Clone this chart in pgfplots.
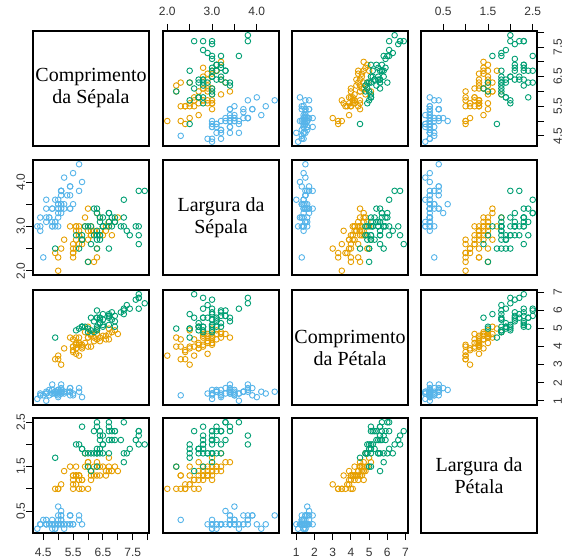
\documentclass[border=0pt]{standalone}
\usepackage{pgfplots}
\usepackage{pgfplotstable}
\pgfplotsset{compat=1.18}
\usepackage{fontspec}
\setmainfont{Liberation Serif}
\newfontfamily\ticfont{Liberation Sans}
\definecolor{cset}{HTML}{56B4E9}
\definecolor{cver}{HTML}{E69F00}
\definecolor{cvir}{HTML}{009E73}

\pgfplotstableread{
SL SW PL PW
5.1 3.5 1.4 0.2
4.9 3.0 1.4 0.2
4.7 3.2 1.3 0.2
4.6 3.1 1.5 0.2
5.0 3.6 1.4 0.2
5.4 3.9 1.7 0.4
4.6 3.4 1.4 0.3
5.0 3.4 1.5 0.2
4.4 2.9 1.4 0.2
4.9 3.1 1.5 0.1
5.4 3.7 1.5 0.2
4.8 3.4 1.6 0.2
4.8 3.0 1.4 0.1
4.3 3.0 1.1 0.1
5.8 4.0 1.2 0.2
5.7 4.4 1.5 0.4
5.4 3.9 1.3 0.4
5.1 3.5 1.4 0.3
5.7 3.8 1.7 0.3
5.1 3.8 1.5 0.3
5.4 3.4 1.7 0.2
5.1 3.7 1.5 0.4
4.6 3.6 1.0 0.2
5.1 3.3 1.7 0.5
4.8 3.4 1.9 0.2
5.0 3.0 1.6 0.2
5.0 3.4 1.6 0.4
5.2 3.5 1.5 0.2
5.2 3.4 1.4 0.2
4.7 3.2 1.6 0.2
4.8 3.1 1.6 0.2
5.4 3.4 1.5 0.4
5.2 4.1 1.5 0.1
5.5 4.2 1.4 0.2
4.9 3.1 1.5 0.2
5.0 3.2 1.2 0.2
5.5 3.5 1.3 0.2
4.9 3.6 1.4 0.1
4.4 3.0 1.3 0.2
5.1 3.4 1.5 0.2
5.0 3.5 1.3 0.3
4.5 2.3 1.3 0.3
4.4 3.2 1.3 0.2
5.0 3.5 1.6 0.6
5.1 3.8 1.9 0.4
4.8 3.0 1.4 0.3
5.1 3.8 1.6 0.2
4.6 3.2 1.4 0.2
5.3 3.7 1.5 0.2
5.0 3.3 1.4 0.2
}\setosa

\pgfplotstableread{
SL SW PL PW
7.0 3.2 4.7 1.4
6.4 3.2 4.5 1.5
6.9 3.1 4.9 1.5
5.5 2.3 4.0 1.3
6.5 2.8 4.6 1.5
5.7 2.8 4.5 1.3
6.3 3.3 4.7 1.6
4.9 2.4 3.3 1.0
6.6 2.9 4.6 1.3
5.2 2.7 3.9 1.4
5.0 2.0 3.5 1.0
5.9 3.0 4.2 1.5
6.0 2.2 4.0 1.0
6.1 2.9 4.7 1.4
5.6 2.9 3.6 1.3
6.7 3.1 4.4 1.4
5.6 3.0 4.5 1.5
5.8 2.7 4.1 1.0
6.2 2.2 4.5 1.5
5.6 2.5 3.9 1.1
5.9 3.2 4.8 1.8
6.1 2.8 4.0 1.3
6.3 2.5 4.9 1.5
6.1 2.8 4.7 1.2
6.4 2.9 4.3 1.3
6.6 3.0 4.4 1.4
6.8 2.8 4.8 1.4
6.7 3.0 5.0 1.7
6.0 2.9 4.5 1.5
5.7 2.6 3.5 1.0
5.5 2.4 3.8 1.1
5.5 2.4 3.7 1.0
5.8 2.7 3.9 1.2
6.0 2.7 5.1 1.6
5.4 3.0 4.5 1.5
6.0 3.4 4.5 1.6
6.7 3.1 4.7 1.5
6.3 2.3 4.4 1.3
5.6 3.0 4.1 1.3
5.5 2.5 4.0 1.3
5.5 2.6 4.4 1.2
6.1 3.0 4.6 1.4
5.8 2.6 4.0 1.2
5.0 2.3 3.3 1.0
5.6 2.7 4.2 1.3
5.7 3.0 4.2 1.2
5.7 2.9 4.2 1.3
6.2 2.9 4.3 1.3
5.1 2.5 3.0 1.1
5.7 2.8 4.1 1.3
}\versicolor

\pgfplotstableread{
SL SW PL PW
6.3 3.3 6.0 2.5
5.8 2.7 5.1 1.9
7.1 3.0 5.9 2.1
6.3 2.9 5.6 1.8
6.5 3.0 5.8 2.2
7.6 3.0 6.6 2.1
4.9 2.5 4.5 1.7
7.3 2.9 6.3 1.8
6.7 2.5 5.8 1.8
7.2 3.6 6.1 2.5
6.5 3.2 5.1 2.0
6.4 2.7 5.3 1.9
6.8 3.0 5.5 2.1
5.7 2.5 5.0 2.0
5.8 2.8 5.1 2.4
6.4 3.2 5.3 2.3
6.5 3.0 5.5 1.8
7.7 3.8 6.7 2.2
7.7 2.6 6.9 2.3
6.0 2.2 5.0 1.5
6.9 3.2 5.7 2.3
5.6 2.8 4.9 2.0
7.7 2.8 6.7 2.0
6.3 2.7 4.9 1.8
6.7 3.3 5.7 2.1
7.2 3.2 6.0 1.8
6.2 2.8 4.8 1.8
6.1 3.0 4.9 1.8
6.4 2.8 5.6 2.1
7.2 3.0 5.8 1.6
7.4 2.8 6.1 1.9
7.9 3.8 6.4 2.0
6.4 2.8 5.6 2.2
6.3 2.8 5.1 1.5
6.1 2.6 5.6 1.4
7.7 3.0 6.1 2.3
6.3 3.4 5.6 2.4
6.4 3.1 5.5 1.8
6.0 3.0 4.8 1.8
6.9 3.1 5.4 2.1
6.7 3.1 5.6 2.4
6.9 3.1 5.1 2.3
5.8 2.7 5.1 1.9
6.8 3.2 5.9 2.3
6.7 3.3 5.7 2.5
6.7 3.0 5.2 2.3
6.3 2.5 5.0 1.9
6.5 3.0 5.2 2.0
6.2 3.4 5.4 2.3
5.9 3.0 5.1 1.8
}\virginica

\pgfplotsset{
  base/.style={scale only axis, width=116pt, height=115pt, anchor=south west,
    axis line style={line width=1.2pt, black}, xtick=\empty, ytick=\empty,
    tick align=outside, major tick length=7pt,
    every tick/.style={black, line width=0.9pt},
    tick label style={font=\ticfont\fontsize{12}{14}\selectfont, text=black!80},
    clip=false},
  xSL/.style={xmin=4.156, xmax=8.044},
  ySL/.style={ymin=4.156, ymax=8.044},
  xSW/.style={xmin=1.904, xmax=4.496},
  ySW/.style={ymin=1.904, ymax=4.496},
  xPL/.style={xmin=0.764, xmax=7.136},
  yPL/.style={ymin=0.764, ymax=7.136},
  xPW/.style={xmin=0.004, xmax=2.596},
  yPW/.style={ymin=0.004, ymax=2.596},
  pt/.style={only marks, mark=o, mark size=2.8pt, mark options={line width=0.9pt}},
  botSL/.style={xtick={4.5,5,5.5,6,6.5,7,7.5,8}, xticklabels={4.5,{},5.5,{},6.5,{},7.5,{}}, xtick pos=lower, xticklabel pos=lower, xticklabel shift=5pt},
  botPL/.style={xtick={1,2,3,4,5,6,7}, xticklabels={1,2,3,4,5,6,7}, xtick pos=lower, xticklabel pos=lower, xticklabel shift=5pt},
  topSW/.style={xtick={2,2.5,3,3.5,4}, xticklabels={2.0,{},3.0,{},4.0}, xtick pos=upper, xticklabel pos=upper, xticklabel shift=5pt},
  topPW/.style={xtick={0.5,1,1.5,2,2.5}, xticklabels={0.5,{},1.5,{},2.5}, xtick pos=upper, xticklabel pos=upper, xticklabel shift=5pt},
  leftSW/.style={ytick={2,2.5,3,3.5,4}, yticklabels={2.0,{},3.0,{},4.0}, ytick pos=lower, yticklabel pos=lower, yticklabel style={rotate=90, anchor=south}, yticklabel shift=-2.5pt},
  leftPW/.style={ytick={0.5,1,1.5,2,2.5}, yticklabels={0.5,{},1.5,{},2.5}, ytick pos=lower, yticklabel pos=lower, yticklabel style={rotate=90, anchor=south}, yticklabel shift=-2.5pt},
  rightSL/.style={ytick={4.5,5,5.5,6,6.5,7,7.5,8}, yticklabels={4.5,{},5.5,{},6.5,{},7.5,{}}, ytick pos=upper, yticklabel pos=upper, yticklabel style={rotate=90, anchor=north}, yticklabel shift=6pt},
  rightPL/.style={ytick={1,2,3,4,5,6,7}, yticklabels={1,2,3,4,5,6,7}, ytick pos=upper, yticklabel pos=upper, yticklabel style={rotate=90, anchor=north}, yticklabel shift=6pt},
}

\newcommand{\panel}[5]{%
  \begin{axis}[base, at={(#1pt,#2pt)}, x#3, y#4, #5]
    \addplot[pt, cset] table[x=#3, y=#4] {\setosa};
    \addplot[pt, cver] table[x=#3, y=#4] {\versicolor};
    \addplot[pt, cvir] table[x=#3, y=#4] {\virginica};
  \end{axis}}
\newcommand{\diag}[3]{%
  \begin{axis}[base, at={(#1pt,#2pt)}, xmin=0, xmax=1, ymin=0, ymax=1]
    \node[align=center, font=\fontsize{20}{22}\selectfont] at (rel axis cs:0.5,0.5) {#3};
  \end{axis}}

\begin{document}
\begin{tikzpicture}[x=1pt,y=1pt]
\useasboundingbox (0,0) rectangle (564,559);
% row 1 (y = SL)
\diag{33}{413}{Comprimento\\da Sépala}
\panel{163}{413}{SW}{SL}{topSW}
\panel{292}{413}{PL}{SL}{}
\panel{421}{413}{PW}{SL}{topPW, rightSL}
% row 2 (y = SW)
\panel{33}{284}{SL}{SW}{leftSW}
\diag{163}{284}{Largura da\\Sépala}
\panel{292}{284}{PL}{SW}{}
\panel{421}{284}{PW}{SW}{}
% row 3 (y = PL)
\panel{33}{154}{SL}{PL}{}
\panel{163}{154}{SW}{PL}{}
\diag{292}{154}{Comprimento\\da Pétala}
\panel{421}{154}{PW}{PL}{rightPL}
% row 4 (y = PW)
\panel{33}{26}{SL}{PW}{botSL, leftPW}
\panel{163}{26}{SW}{PW}{}
\panel{292}{26}{PL}{PW}{botPL}
\diag{421}{26}{Largura da\\Pétala}
\end{tikzpicture}
\end{document}
